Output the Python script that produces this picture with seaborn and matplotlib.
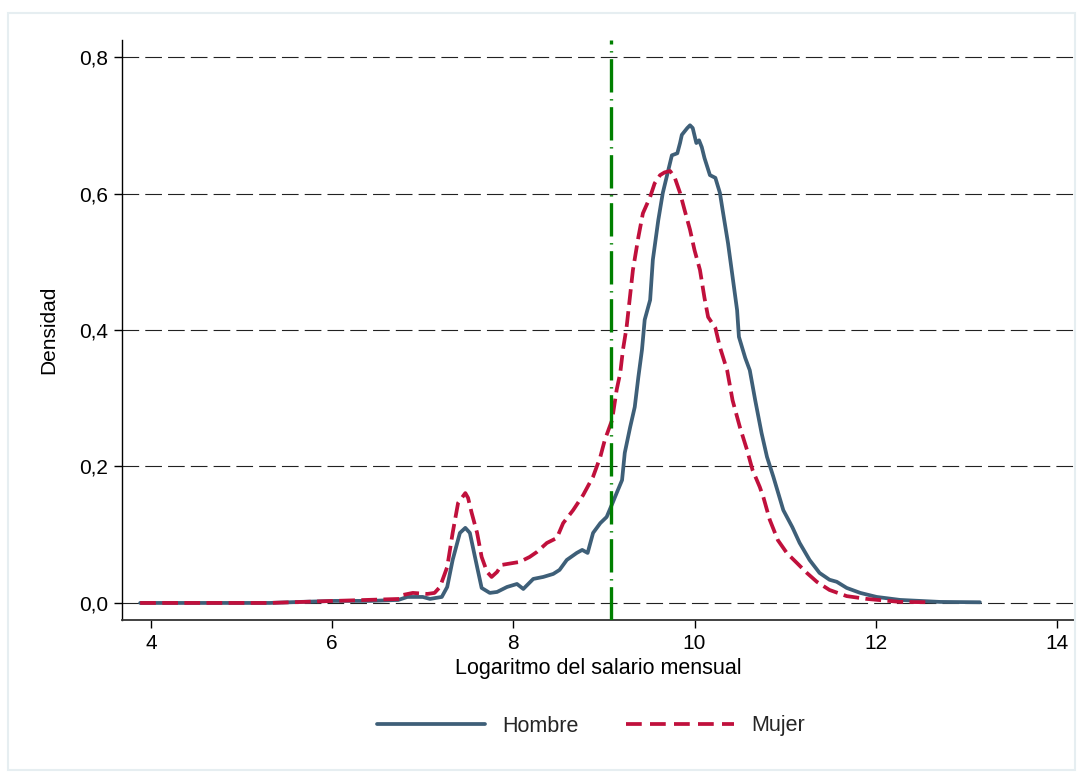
import matplotlib.pyplot as plt
import seaborn as sns
from matplotlib.lines import Line2D
from matplotlib.patches import Rectangle

# densidad del log del salario mensual
hombre_x = [3.88, 4.54, 5.31, 5.64, 6.03, 6.42, 6.73, 6.83, 7.00, 7.08, 7.21, 7.27,
            7.33, 7.41, 7.47, 7.52, 7.60, 7.65, 7.74, 7.82, 7.93, 8.04, 8.11, 8.22,
            8.33, 8.44, 8.51, 8.59, 8.70, 8.76, 8.82, 8.88, 8.96, 9.03, 9.10, 9.14,
            9.20, 9.23, 9.29, 9.34, 9.38, 9.42, 9.45, 9.51, 9.54, 9.60, 9.65, 9.71,
            9.75, 9.81, 9.84, 9.86, 9.92, 9.95, 9.98, 10.02, 10.05, 10.08, 10.11,
            10.17, 10.23, 10.28, 10.31, 10.37, 10.42, 10.47, 10.49, 10.56, 10.61,
            10.67, 10.74, 10.80, 10.87, 10.98, 11.08, 11.16, 11.27, 11.38, 11.49,
            11.57, 11.68, 11.83, 12.01, 12.27, 12.71, 13.15]
hombre_y = [0.0, 0.0, 0.0, 0.0015, 0.003, 0.003, 0.0044, 0.0088, 0.0088, 0.0059, 0.0088, 0.0234,
            0.063, 0.1026, 0.110, 0.1026, 0.0527, 0.022, 0.0147, 0.0161, 0.0234, 0.0278, 0.0205, 0.0352,
            0.0381, 0.0425, 0.0484, 0.063, 0.0733, 0.0777, 0.0733, 0.1026, 0.117, 0.126, 0.148, 0.161,
            0.180, 0.220, 0.258, 0.287, 0.331, 0.371, 0.415, 0.444, 0.503, 0.561, 0.601, 0.634,
            0.656, 0.659, 0.674, 0.686, 0.696, 0.700, 0.696, 0.674, 0.678, 0.668, 0.652,
            0.627, 0.623, 0.601, 0.576, 0.527, 0.478, 0.429, 0.390, 0.359, 0.341,
            0.297, 0.249, 0.214, 0.185, 0.136, 0.111, 0.088, 0.063, 0.044, 0.034,
            0.031, 0.022, 0.0147, 0.0088, 0.0044, 0.0015, 0.001]

mujer_x = [3.88, 5.31, 6.03, 6.75, 6.78, 6.89, 7.05, 7.13, 7.19, 7.27, 7.33, 7.39,
           7.47, 7.50, 7.54, 7.60, 7.65, 7.71, 7.76, 7.82, 7.87, 8.00, 8.07, 8.18,
           8.26, 8.37, 8.48, 8.55, 8.66, 8.77, 8.88, 8.96, 9.01, 9.09, 9.14, 9.18,
           9.21, 9.25, 9.28, 9.32, 9.38, 9.43, 9.51, 9.56, 9.62, 9.67, 9.73, 9.78,
           9.84, 9.89, 9.95, 10.00, 10.06, 10.11, 10.15, 10.23, 10.28, 10.36, 10.42,
           10.50, 10.58, 10.64, 10.72, 10.76, 10.83, 10.92, 11.02, 11.13, 11.24,
           11.35, 11.49, 11.68, 11.90, 12.27, 12.60]
mujer_y = [0.0, 0.0, 0.003, 0.0059, 0.0117, 0.0147, 0.0132, 0.0147, 0.0234, 0.0527, 0.1026, 0.1465,
           0.161, 0.154, 0.132, 0.1026, 0.0674, 0.0454, 0.0381, 0.0454, 0.0557, 0.0586, 0.0601, 0.0674,
           0.0747, 0.0879, 0.0952, 0.117, 0.136, 0.158, 0.185, 0.214, 0.239, 0.268, 0.312, 0.337,
           0.371, 0.404, 0.440, 0.488, 0.536, 0.571, 0.595, 0.615, 0.627, 0.631, 0.633, 0.624,
           0.601, 0.576, 0.547, 0.517, 0.488, 0.447, 0.419, 0.403, 0.375, 0.341, 0.297,
           0.258, 0.224, 0.195, 0.170, 0.155, 0.122, 0.092, 0.073, 0.0586, 0.044,
           0.031, 0.019, 0.010, 0.0059, 0.0015, 0.001]

umbral = 9.08
y_ticks = [0.0, 0.2, 0.4, 0.6, 0.8]
y_labels = ['0,0', '0,2', '0,4', '0,6', '0,8']
x_ticks = [4, 6, 8, 10, 12, 14]

azul = '#3e5f78'
rojo = '#c0103c'
verde = '#008000'

sns.set_theme(style='white')
plt.rcParams['font.family'] = ['Liberation Sans', 'DejaVu Sans']

W, H = 1083, 776
fig = plt.figure(figsize=(W / 100, H / 100), dpi=100)
ax = fig.add_axes([122 / W, 156 / H, 953 / W, 580 / H])

for t in y_ticks:
    ax.axhline(t, color='#222222', lw=0.8, dashes=(15, 5.5), zorder=1)

sns.lineplot(x=hombre_x, y=hombre_y, color=azul, lw=2.7, ax=ax,
             estimator=None, sort=False, zorder=3)
sns.lineplot(x=mujer_x, y=mujer_y, color=rojo, lw=2.7, ax=ax,
             estimator=None, sort=False, linestyle=(0, (4.2, 1.7)), zorder=4)

ax.axvline(umbral, color=verde, lw=2.4, dashes=(10, 2, 0.4, 2), zorder=5)

ax.set_xlim(3.68, 14.2)
ax.set_ylim(-0.025, 0.825)
ax.set_xticks(x_ticks)
ax.set_yticks(y_ticks)
ax.set_yticklabels(y_labels)
ax.tick_params(axis='both', direction='out', length=6, width=1, color='black',
               labelsize=15, pad=4, bottom=True, left=True, labelcolor='black')

sns.despine(ax=ax)
ax.spines['left'].set_color('black')
ax.spines['left'].set_linewidth(1)
ax.spines['bottom'].set_color('#333333')
ax.spines['bottom'].set_linewidth(1.3)

ax.set_xlabel('Logaritmo del salario mensual', fontsize=15.5, color='black')
ax.set_ylabel('Densidad', fontsize=15, color='black')
ax.xaxis.set_label_coords(0.5, -0.0655)
ax.yaxis.set_label_coords(-0.0674, 0.5)

handles = [Line2D([], [], color=azul, lw=2.7),
           Line2D([], [], color=rojo, lw=2.7, linestyle=(0, (4.2, 2.2)))]
fig.legend(handles, ['Hombre', 'Mujer'], loc='center',
           bbox_to_anchor=(591 / W, 1 - 726 / H), ncol=2, frameon=False,
           fontsize=15.5, handlelength=5, handletextpad=0.8, columnspacing=2.2)

# marco exterior tenue
fig.patches.append(Rectangle((8 / W, 6 / H), (1075 - 8) / W, (763 - 6) / H,
                             transform=fig.transFigure, fill=False,
                             edgecolor='#e6eef1', lw=1.5))

fig.savefig('out.png', dpi=100)
